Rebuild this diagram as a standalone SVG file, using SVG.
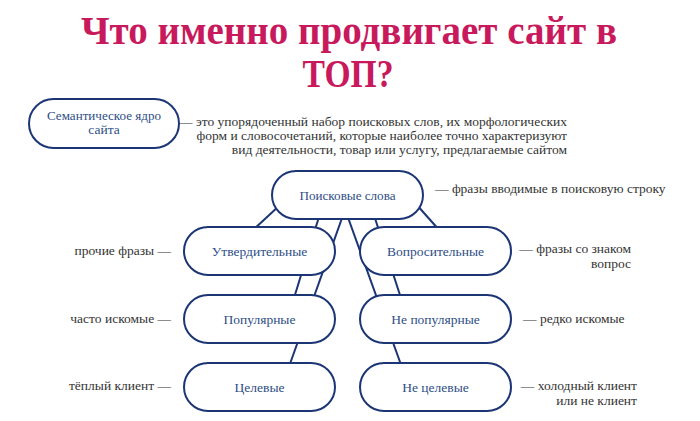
<svg xmlns="http://www.w3.org/2000/svg" width="700" height="421" viewBox="0 0 700 421">
<style>
.title{font-weight:bold;fill:#C8195C;font-size:40px;text-anchor:middle}
.node rect{fill:#fff;stroke:#1B3575;stroke-width:2}
.node text{font-size:13.5px;fill:#2E4E86;text-anchor:middle}
.lbl{font-size:13.5px;fill:#333}
.r{text-anchor:end}
#connectors line{stroke:#1B3575;stroke-width:2}
</style>
<rect width="700" height="421" fill="#fff"/>
<g font-family="Liberation Serif, DejaVu Serif, serif">
<text class="title" x="349" y="44" textLength="536" lengthAdjust="spacingAndGlyphs">Что именно продвигает сайт в</text>
<text class="title" x="348" y="87" textLength="91" lengthAdjust="spacingAndGlyphs">ТОП?</text>

<g id="connectors">
<line x1="280" y1="205" x2="252" y2="231"/>
<line x1="416" y1="204" x2="440" y2="231"/>
<line x1="321.1" y1="210" x2="293.4" y2="300"/>
<line x1="344.9" y1="210" x2="287.8" y2="370"/>
<line x1="345.3" y1="210" x2="402.9" y2="370"/>
<line x1="372.3" y1="210" x2="401.6" y2="300"/>
</g>

<g id="node-core" class="node">
<rect x="29" y="99" width="150" height="49" rx="24.5"/>
<text x="104" y="120" font-size="12.5" textLength="114" lengthAdjust="spacingAndGlyphs">Семантическое ядро</text>
<text x="104" y="134" font-size="12.5">сайта</text>
</g>
<g id="node-search" class="node">
<rect x="272" y="171" width="151" height="48" rx="24"/>
<text x="347.5" y="199.5" textLength="96" lengthAdjust="spacingAndGlyphs">Поисковые слова</text>
</g>
<g id="node-affirm" class="node">
<rect x="184" y="227" width="151" height="48" rx="24"/>
<text x="259.5" y="255.5">Утвердительные</text>
</g>
<g id="node-question" class="node">
<rect x="360" y="227" width="151" height="48" rx="24"/>
<text x="435.5" y="255.5">Вопросительные</text>
</g>
<g id="node-popular" class="node">
<rect x="184" y="295" width="151" height="48" rx="24"/>
<text x="259.5" y="323.5">Популярные</text>
</g>
<g id="node-unpopular" class="node">
<rect x="360" y="295" width="151" height="48" rx="24"/>
<text x="435.5" y="323.5">Не популярные</text>
</g>
<g id="node-target" class="node">
<rect x="184" y="363" width="151" height="48" rx="24"/>
<text x="259.5" y="391.5">Целевые</text>
</g>
<g id="node-nontarget" class="node">
<rect x="360" y="363" width="151" height="48" rx="24"/>
<text x="435.5" y="391.5">Не целевые</text>
</g>

<g id="labels">
<text class="lbl r" x="567" y="126">— это упорядоченный набор поисковых слов, их морфологических</text>
<text class="lbl r" x="567" y="140">форм и словосочетаний, которые наиболее точно характеризуют</text>
<text class="lbl r" x="567" y="154">вид деятельности, товар или услугу, предлагаемые сайтом</text>
<text class="lbl" x="435" y="193">— фразы вводимые в поисковую строку</text>
<text class="lbl r" x="171" y="255">прочие фразы —</text>
<text class="lbl r" x="631" y="253">— фразы со знаком</text>
<text class="lbl r" x="631" y="268">вопрос</text>
<text class="lbl r" x="171" y="323">часто искомые —</text>
<text class="lbl" x="523" y="323">— редко искомые</text>
<text class="lbl r" x="171" y="390">тёплый клиент —</text>
<text class="lbl r" x="637" y="390">— холодный клиент</text>
<text class="lbl r" x="637" y="405">или не клиент</text>
</g>
</g>
</svg>
